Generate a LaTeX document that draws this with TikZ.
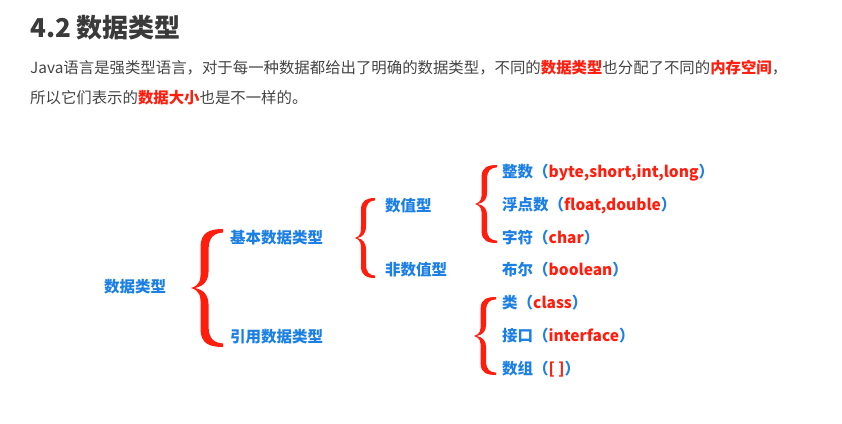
\documentclass[tikz,border=0pt]{standalone}
\usepackage{fontspec}
\setmainfont{Noto Sans CJK SC}
\definecolor{titlegray}{HTML}{3A3A3A}
\definecolor{textgray}{HTML}{444444}
\definecolor{keyblue}{HTML}{1B7FE3}
\definecolor{keyred}{HTML}{FF1E0E}
\newcommand{\hl}[1]{\textbf{\textcolor{keyred}{#1}}}
\newcommand{\kw}[1]{\textcolor{keyred}{#1}}
\tikzset{
  curly/.pic={
    \fill[keyred] (0,0) .. controls (0.3,-0.05) and (0.3,-0.15) .. (0.3,-0.3)
      -- (0.3,-0.7) .. controls (0.3,-0.95) and (0.6,-1) .. (1,-1)
      -- (1,-0.94) .. controls (0.7,-0.93) and (0.55,-0.85) .. (0.55,-0.65)
      -- (0.55,-0.3) .. controls (0.55,-0.12) and (0.4,-0.03) .. (0.12,0)
      .. controls (0.4,0.03) and (0.55,0.12) .. (0.55,0.3)
      -- (0.55,0.65) .. controls (0.55,0.85) and (0.7,0.93) .. (1,0.94)
      -- (1,1) .. controls (0.6,1) and (0.3,0.95) .. (0.3,0.7)
      -- (0.3,0.3) .. controls (0.3,0.15) and (0.3,0.05) .. (0,0) -- cycle;
  }
}

\begin{document}
\begin{tikzpicture}[x=1pt,y=-1pt,
  every node/.style={inner sep=0pt,anchor=west},
  lbl/.style={font=\fontsize{15.5}{18}\selectfont\bfseries,text=keyblue}]
\useasboundingbox (0,0) rectangle (842,423);
% heading
\node[font=\fontsize{26}{30}\selectfont\bfseries,text=titlegray] (title) at (30,28) {4.2 数据类型};
\node[font=\fontsize{15.4}{20}\selectfont,text=textgray] (line1) at (30,68) {Java语言是强类型语言，对于每一种数据都给出了明确的数据类型，不同的\hl{数据类型}也分配了不同的\hl{内存空间}，};
\node[font=\fontsize{15.4}{20}\selectfont,text=textgray] (line2) at (30,98) {所以它们表示的\hl{数据大小}也是不一样的。};
% tree
\node[lbl] (root) at (104,287) {数据类型};
\node[lbl] (basic) at (230,238) {基本数据类型};
\node[lbl] (ref) at (230,337) {引用数据类型};
\node[lbl] (num) at (385,206) {数值型};
\node[lbl] (nonnum) at (385,270) {非数值型};
\node[lbl] (int) at (502,173) {整数（\kw{byte,short,int,long}）};
\node[lbl] (float) at (502,206) {浮点数（\kw{float,double}）};
\node[lbl] (char) at (502,238) {字符（\kw{char}）};
\node[lbl] (bool) at (502,270) {布尔（\kw{boolean}）};
\node[lbl] (class) at (502,303) {类（\kw{class}）};
\node[lbl] (iface) at (502,336) {接口（\kw{interface}）};
\node[lbl] (arr) at (502,369) {数组（\kw{[ ]}）};
% braces (tip, width, half height)
\pic[xscale=32,yscale=59] (br1) at (191,288) {curly};
\pic[xscale=20,yscale=40] (br2) at (355,238) {curly};
\pic[xscale=22,yscale=39] (br3) at (475,204) {curly};
\pic[xscale=22,yscale=39] (br4) at (474,336) {curly};
\end{tikzpicture}
\end{document}
